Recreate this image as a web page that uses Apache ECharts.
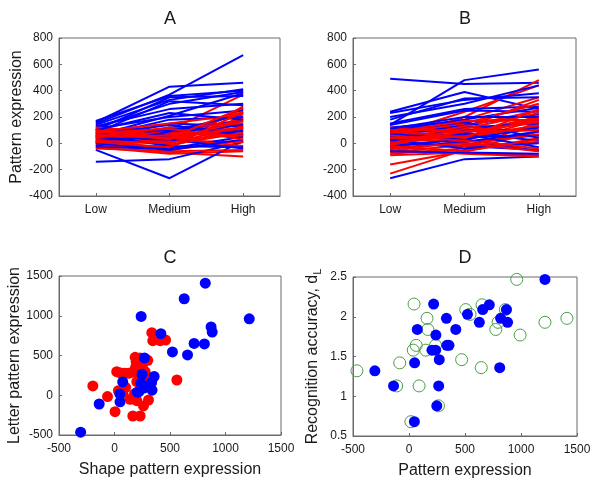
<!DOCTYPE html>
<html>
<head>
<meta charset="utf-8">
<script src="https://cdn.jsdelivr.net/npm/echarts@6/dist/echarts.min.js"></script>
<style>html,body{margin:0;padding:0;background:#fff}#c{width:600px;height:486px}</style>
</head>
<body>
<div id="c"></div>
<script>
// ---------- data ----------
const levels = ['Low', 'Medium', 'High'];
const yTicksAB = [-400, -200, 0, 200, 400, 600, 800];

// Panel A: each row = [Low, Medium, High]
const aBlue = [
  [150, 370, 670], [160, 430, 460], [170, 360, 400], [140, 330, 410], [120, 300, 390],
  [100, 350, 360], [130, 260, 300], [80, 320, 290], [60, 210, 380], [110, 200, 250],
  [-140, -120, 10], [-50, -265, 20], [50, 180, 200], [30, 150, 130], [0, 120, 100],
  [90, 100, 170], [20, 60, 90], [-30, -40, 50], [70, 140, 60], [40, 30, -40],
  [10, 80, 140], [60, -20, -30], [-20, 90, 220], [100, 230, 180], [0, -50, 30]
];
const aRed = [
  [30, 100, 370], [0, -70, -100], [-30, -80, -60], [20, -40, 280], [50, 10, 260],
  [100, 40, 240], [80, 0, 200], [60, 70, 230], [40, 30, 150], [-20, -20, 120],
  [10, 50, 100], [70, 90, 180], [120, 80, 50], [90, 20, 10], [30, -50, 20],
  [-10, 20, 70], [50, 120, 150], [110, 60, 120], [20, 40, -20], [0, 10, 190],
  [70, -10, 80], [40, 80, 60], [-40, -60, -50], [90, 150, 220], [60, 40, 270],
  [20, 0, 130], [80, 110, 30], [100, 30, 170], [10, -30, 240], [50, 60, 110]
];

// Panel B
const bBlue = [
  [490, 450, 460], [140, 480, 560], [240, 390, 260], [230, 330, 380], [200, 300, 440],
  [180, 340, 350], [150, 260, 280], [140, 250, 240], [100, 180, 270], [-265, -120, -100],
  [120, 170, 180], [80, 100, 100], [60, 140, 220], [40, 50, 60], [20, 80, 20],
  [0, -20, -50], [-40, 10, 90], [70, 30, -60], [10, 120, 150], [-60, -70, -80],
  [30, -40, 0], [90, 160, 40], [50, 70, -30], [-20, 30, 120], [110, 200, 200]
];
const bRed = [
  [-230, -50, 90], [-160, -60, 40], [20, 200, 480], [60, 240, 440], [100, 180, 350],
  [-80, -40, 160], [-60, 20, 180], [40, 100, 170], [80, 120, 330], [0, 60, 130],
  [-90, -70, -90], [-50, -80, -100], [30, 10, 60], [120, 80, 200], [70, 150, 300],
  [-30, 40, 140], [10, -20, 10], [90, 30, 210], [-70, -10, 70], [50, 60, 120],
  [20, 130, 250], [-40, 0, -60], [110, 90, 160], [0, 110, 230], [60, 20, -40],
  [-20, -60, 30], [80, 170, 180], [40, 50, 190], [-10, 90, 100], [100, 40, 260]
];

// Panel C/D: blue subjects
const blueShape  = [-305, -138, 74, 48, 50, 240, 818, 628, 1214, 418, 870, 880, 717, 810, 522, 658, 270, 357, 334, 220, 338, 205, 238, 265, 248];
const blueLetter = [-465, -110, 168, 17, -83, 992, 1410, 1214, 962, 775, 860, 795, 652, 645, 545, 507, 470, 237, 161, 45, 64, 38, 150, 90, 263];
const blueAcc    = [1.32, 1.13, 1.84, 0.68, 1.42, 1.77, 1.98, 1.93, 2.47, 1.84, 2.09, 1.93, 2.15, 1.36, 2.03, 2.09, 1.46, 1.64, 1.98, 2.16, 1.64, 1.58, 1.58, 1.13, 0.88];

// Panel C: red subjects
const redShape  = [-195, -63, 5, 20, 55, 90, 126, 160, 190, 195, 186, 210, 230, 240, 270, 276, 276, 201, 35, 75, 141, 201, 306, 261, 165, 231, 336, 345, 411, 460, 562, 340, 250, 215, 180, 100, 230, 300];
const redLetter = [117, -17, -207, 296, 280, 276, 276, 290, 350, 420, 477, 440, 470, 390, 430, 296, 180, 170, 57, 25, -51, -68, -60, -135, -261, -261, 787, 686, 686, 695, 192, 200, 360, 310, 20, 100, 250, 440];

const cdTicks = [-500, 0, 500, 1000, 1500];
const accTicks = [0.5, 1, 1.5, 2, 2.5];

// ---------- chart ----------
const FONT = 'Liberation Sans';
const TXT = '#1a1a1a';
const AX = '#6a6a6a';
const chart = echarts.init(document.getElementById('c'), null, {renderer: 'canvas'});

const grids = [
  {left: 59, top: 38, width: 221, height: 158},
  {left: 353, top: 38, width: 223, height: 158},
  {left: 59, top: 276, width: 222, height: 159},
  {left: 353, top: 277, width: 224, height: 159}
].map(g => Object.assign({show: true, borderColor: AX, borderWidth: 1, backgroundColor: '#fff', containLabel: false}, g));

const axisLineStyle = {show: true, onZero: false, lineStyle: {color: AX, width: 1}};
const tick = {show: true, inside: true, length: 3, lineStyle: {color: AX}};
const labelStyle = {color: TXT, fontFamily: FONT, fontSize: 12};
const nameStyle = {color: TXT, fontFamily: FONT, fontSize: 16};
const plain = v => String(v);

function catAxis(idx) {
  return {type: 'category', gridIndex: idx, data: levels, boundaryGap: true,
    axisLine: axisLineStyle, axisTick: Object.assign({alignWithLabel: true}, tick),
    axisLabel: Object.assign({margin: 8}, labelStyle), splitLine: {show: false}};
}
function valAxis(idx, ticks, extra) {
  return Object.assign({type: 'value', gridIndex: idx, min: ticks[0], max: ticks[ticks.length - 1],
    interval: ticks[1] - ticks[0], axisLine: axisLineStyle, axisTick: tick,
    axisLabel: Object.assign({margin: 6, formatter: plain}, labelStyle), splitLine: {show: false}}, extra || {});
}

const xAxes = [
  catAxis(0), catAxis(1),
  valAxis(2, cdTicks, {name: 'Shape pattern expression', nameLocation: 'middle', nameGap: 27, nameTextStyle: nameStyle, axisLabel: Object.assign({margin: 8, formatter: plain}, labelStyle)}),
  valAxis(3, cdTicks, {name: 'Pattern expression', nameLocation: 'middle', nameGap: 27, nameTextStyle: nameStyle, axisLabel: Object.assign({margin: 8, formatter: plain}, labelStyle)})
];
const yAxes = [
  valAxis(0, yTicksAB, {name: 'Pattern expression', nameLocation: 'middle', nameGap: 33, nameTextStyle: nameStyle}),
  valAxis(1, yTicksAB),
  valAxis(2, cdTicks, {name: 'Letter pattern expression', nameLocation: 'middle', nameGap: 35, nameTextStyle: nameStyle}),
  valAxis(3, accTicks, {name: 'Recognition accuracy, d{s|L}', nameLocation: 'middle', nameGap: 30,
    nameTextStyle: Object.assign({rich: {s: {fontFamily: FONT, fontSize: 11, color: TXT, verticalAlign: 'bottom', padding: [9, 0, 0, 0]}}}, nameStyle)})
];

const series = [];
function addLines(rows, color, idx) {
  rows.forEach(r => series.push({type: 'line', xAxisIndex: idx, yAxisIndex: idx, data: r,
    symbol: 'none', lineStyle: {color: color, width: 2}, silent: true, animation: false}));
}
function interleave(red, blue, idx) {
  const n = Math.max(red.length, blue.length);
  for (let i = 0; i < n; i++) {
    if (i < red.length) addLines([red[i]], '#ff0000', idx);
    if (i < blue.length) addLines([blue[i]], '#0000ff', idx);
  }
}
interleave(aRed, aBlue, 0);
interleave(bRed, bBlue, 1);

series.push({type: 'scatter', xAxisIndex: 2, yAxisIndex: 2, symbolSize: 11,
  data: redShape.map((x, i) => [x, redLetter[i]]), itemStyle: {color: '#ff0000', opacity: 1}, animation: false});
series.push({type: 'scatter', xAxisIndex: 2, yAxisIndex: 2, symbolSize: 11,
  data: blueShape.map((x, i) => [x, blueLetter[i]]), itemStyle: {color: '#0000ff', opacity: 1}, animation: false});
series.push({type: 'scatter', xAxisIndex: 3, yAxisIndex: 3, symbolSize: 12,
  data: blueLetter.map((x, i) => [x, blueAcc[i]]), itemStyle: {color: 'rgba(0,0,0,0)', borderColor: '#4a9e4a', borderWidth: 1, opacity: 1}, animation: false});
series.push({type: 'scatter', xAxisIndex: 3, yAxisIndex: 3, symbolSize: 11,
  data: blueShape.map((x, i) => [x, blueAcc[i]]), itemStyle: {color: '#0000ff', opacity: 1}, animation: false});

const titleStyle = {color: TXT, fontFamily: FONT, fontSize: 18, fontWeight: 'normal'};
chart.setOption({
  animation: false,
  backgroundColor: '#fff',
  title: [
    {text: 'A', left: 170, top: 10, textAlign: 'center', textStyle: titleStyle, padding: 0},
    {text: 'B', left: 465, top: 10, textAlign: 'center', textStyle: titleStyle, padding: 0},
    {text: 'C', left: 170, top: 249, textAlign: 'center', textStyle: titleStyle, padding: 0},
    {text: 'D', left: 465, top: 249, textAlign: 'center', textStyle: titleStyle, padding: 0}
  ],
  grid: grids,
  xAxis: xAxes,
  yAxis: yAxes,
  series: series
});
</script>
</body>
</html>
